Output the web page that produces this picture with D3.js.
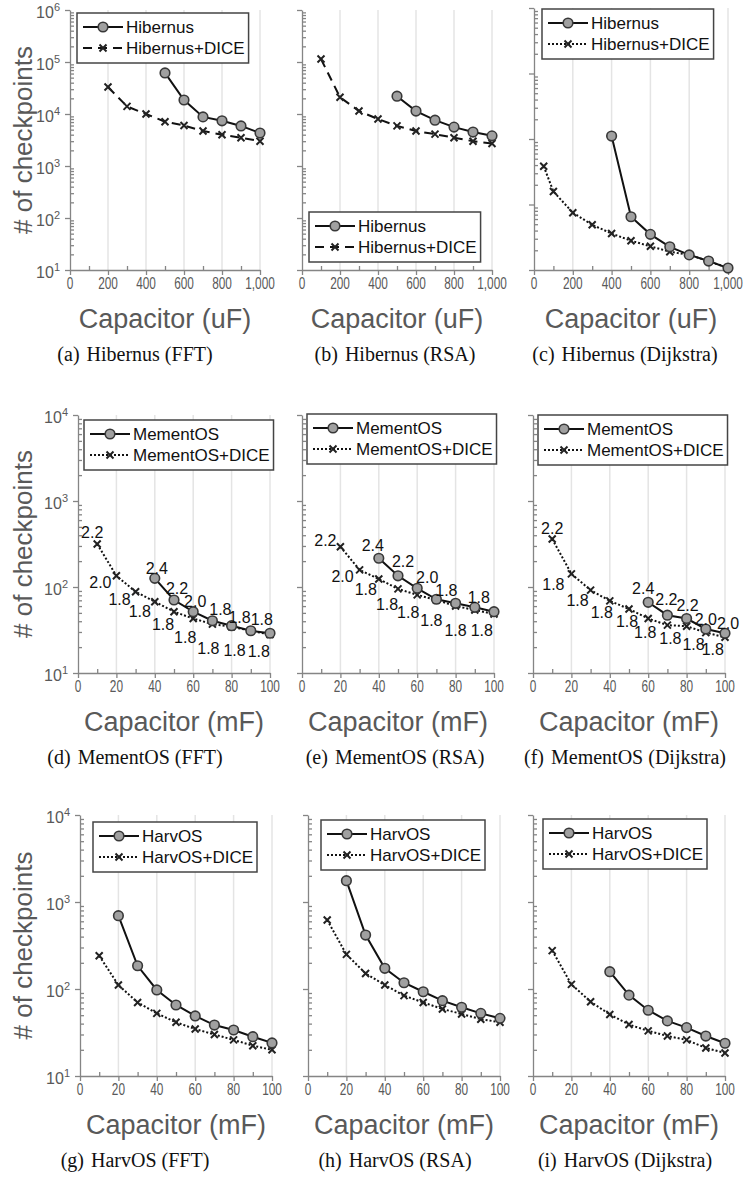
<!DOCTYPE html>
<html>
<head>
<meta charset="utf-8">
<script src="https://cdn.jsdelivr.net/npm/d3@7"></script>
<style>
  body { margin: 0; background: #fff; }
  text { font-family: "Liberation Sans", Arial, sans-serif; }
  text.cap { font-family: "Liberation Serif", "DejaVu Serif", serif; }
</style>
</head>
<body>
<svg id="fig" width="745" height="1182"></svg>
<script>
// ---- data ----
// Hibernus, capacitor in uF
var hibX = [500, 600, 700, 800, 900, 1000];
var hibFFT = [61600, 18600, 8800, 7400, 5900, 4300];
var hibDiceFFTX = [200, 300, 400, 500, 600, 700, 800, 900, 1000];
var hibDiceFFT = [33000, 14000, 10000, 7100, 6000, 4700, 4000, 3500, 3000];
var hibRSA = [22000, 11400, 7600, 5600, 4500, 3800];
var hibDiceRSAX = [100, 200, 300, 400, 500, 600, 700, 800, 900, 1000];
var hibDiceRSA = [114000, 21000, 11400, 8000, 5900, 4700, 4100, 3500, 3000, 2700];
var hibDijX = [400, 500, 600, 700, 800, 900, 1000];
var hibDij = [1110, 65, 35, 22.6, 17, 13.7, 10.7];
var hibDiceDijX = [50, 100, 200, 300, 400, 500, 600, 700, 800, 900, 1000];
var hibDiceDij = [384, 158, 75, 49, 36, 28, 23, 19, 17, 13.7, 10.7];

// MementOS, capacitor in mF (labels are the voltage thresholds shown on the points)
var memX = [40, 50, 60, 70, 80, 90, 100];
var memFFT = [126, 70.6, 51.6, 40.5, 35.5, 31, 29];
var memFFTLabels = ["2.4", "2.2", "2.0", "1.8", "1.8", "1.8", null];
var memDiceFFTX = [10, 20, 30, 40, 50, 60, 70, 80, 90, 100];
var memDiceFFT = [316, 135, 88, 67.5, 51.6, 43, 37, 34.5, 31, 28];
var memDiceFFTLabels = ["2.2", "2.0", "1.8", "1.8", "1.8", "1.8", "1.8", "1.8", "1.8", null];
var memRSA = [216, 135, 96.6, 72, 64.6, 58, 51.6];
var memRSALabels = ["2.4", "2.2", "2.0", "1.8", null, "1.8", null];
var memDiceRSAX = [20, 30, 40, 50, 60, 70, 80, 90, 100];
var memDiceRSA = [294, 158, 124, 95, 81, 70.6, 60, 54, 48.5];
var memDiceRSALabels = ["2.2", "2.0", "1.8", "1.8", "1.8", "1.8", "1.8", "1.8", null];
var memDijX = [60, 70, 80, 90, 100];
var memDij = [66.4, 47, 43, 32.5, 29];
var memDijLabels = ["2.4", "2.2", "2.2", "2.0", "2.0"];
var memDiceDijX = [10, 20, 30, 40, 50, 60, 70, 80, 90, 100];
var memDiceDij = [361, 142, 92, 69, 55.5, 43, 36, 35, 29.5, 26];
var memDiceDijLabels = ["2.2", "1.8", "1.8", "1.8", "1.8", "1.8", "1.8", "1.8", "1.8", null];

// HarvOS, capacitor in mF
var harvFFTX = [20, 30, 40, 50, 60, 70, 80, 90, 100];
var harvFFT = [696, 185, 97.5, 65.5, 49, 38.5, 33.8, 28.3, 24];
var harvDiceX = [10, 20, 30, 40, 50, 60, 70, 80, 90, 100];
var harvDiceFFT = [241, 111, 70, 52.5, 41.4, 34.7, 30, 26, 22.3, 20];
var harvRSA = [1757, 417, 173, 118, 93, 73.5, 61.6, 52.5, 46];
var harvDiceRSA = [621, 250, 151, 111, 84, 70, 59, 51.6, 45, 41.5];
var harvDijX = [40, 50, 60, 70, 80, 90, 100];
var harvDij = [158, 85, 57, 43, 36, 28.8, 23.8];
var harvDiceDij = [276, 113, 71.4, 51, 39, 33, 28.8, 26, 21, 18.4];

// tick labels
var uFTicks = [0, 200, 400, 600, 800, 1000];
var uFMinor = [100, 300, 500, 700, 900];
var mFTicks = [0, 20, 40, 60, 80, 100];
var mFMinor = [10, 30, 50, 70, 90];
var hibExps = [1, 2, 3, 4, 5, 6];
var memExps = [1, 2, 3, 4];
var harvExps = [1, 2, 3, 4];

var captions = [
  ["(a)", "Hibernus (FFT)"], ["(b)", "Hibernus (RSA)"], ["(c)", "Hibernus (Dijkstra)"],
  ["(d)", "MementOS (FFT)"], ["(e)", "MementOS (RSA)"], ["(f)", "MementOS (Dijkstra)"],
  ["(g)", "HarvOS (FFT)"], ["(h)", "HarvOS (RSA)"], ["(i)", "HarvOS (Dijkstra)"]
];

// ---- layout ----
// label nudges (px) for the MementOS data labels
var nudgeD = { base: [[2,-10],[3,-12],[2,-10],[8,-11],[8,-8],[11,-11],[0,0]],
               dice: [[-5,-12],[-16,7],[-16,8],[-15,10],[-11,13],[-8,19],[-4,24],[3,24],[8,21],[0,0]] };
var nudgeE = { base: [[-6,-13],[5,-14],[10,-11],[10,-9],[0,0],[4,-10],[0,0]],
               dice: [[-15,-6],[-17,7],[-13,11],[-11,16],[-9,18],[-5,20],[0,24],[7,20],[0,0]] };
var nudgeF = { base: [[-5,-14],[-1,-16],[1,-13],[0,-9],[3,-10]],
               dice: [[0,-11],[-18,11],[-13,10],[-8,12],[-2,13],[-3,14],[3,13],[7,18],[7,17],[0,0]] };

function zip(xs, ys) { return xs.map(function (v, i) { return [v, ys[i]]; }); }

var rowHib = { top: 10, bottom: 270, yDomain: [10, 1e6], exps: hibExps, ticks: uFTicks, minor: uFMinor,
               xMax: 1000, unit: "Capacitor (uF)", name: "Hibernus" };
var rowMem = { top: 415, bottom: 673, yDomain: [10, 1e4], exps: memExps, ticks: mFTicks, minor: mFMinor,
               xMax: 100, unit: "Capacitor (mF)", name: "MementOS" };
var rowHarv = { top: 815, bottom: 1076, yDomain: [10, 1e4], exps: harvExps, ticks: mFTicks, minor: mFMinor,
                xMax: 100, unit: "Capacitor (mF)", name: "HarvOS" };

var capCenters = [135, 395, 625];

var panels = [
  { row: rowHib, left: 70, right: 260, base: zip(hibX, hibFFT), dice: zip(hibDiceFFTX, hibDiceFFT),
    dash: "9,6", legend: [77, 13], yLabels: true },
  { row: rowHib, left: 302, right: 492, base: zip(hibX, hibRSA), dice: zip(hibDiceRSAX, hibDiceRSA),
    dash: "9,6", legend: [309, 212] },
  { row: rowHib, left: 534, right: 728, top: 8, yDomain: [10, 1e5], base: zip(hibDijX, hibDij),
    dice: zip(hibDiceDijX, hibDiceDij), dash: "2,2", legend: [542, 9] },
  { row: rowMem, left: 78, right: 270, base: zip(memX, memFFT), dice: zip(memDiceFFTX, memDiceFFT),
    baseLab: memFFTLabels, diceLab: memDiceFFTLabels, nudge: nudgeD, dash: "2,2", legend: [84, 420], yLabels: true },
  { row: rowMem, left: 302, right: 494, base: zip(memX, memRSA), dice: zip(memDiceRSAX, memDiceRSA),
    baseLab: memRSALabels, diceLab: memDiceRSALabels, nudge: nudgeE, dash: "2,2", legend: [307, 414] },
  { row: rowMem, left: 533, right: 725, base: zip(memDijX, memDij), dice: zip(memDiceDijX, memDiceDij),
    baseLab: memDijLabels, diceLab: memDiceDijLabels, nudge: nudgeF, dash: "2,2", legend: [538, 415] },
  { row: rowHarv, left: 80, right: 272, base: zip(harvFFTX, harvFFT), dice: zip(harvDiceX, harvDiceFFT),
    dash: "2,2", legend: [93, 822], yLabels: true },
  { row: rowHarv, left: 308, right: 500, base: zip(harvFFTX, harvRSA), dice: zip(harvDiceX, harvDiceRSA),
    dash: "2,2", legend: [321, 820] },
  { row: rowHarv, left: 533, right: 725, base: zip(harvDijX, harvDij), dice: zip(harvDiceX, harvDiceDij),
    dash: "2,2", legend: [543, 819] }
];

var svg = d3.select("#fig");
var axisGray = "#858585", textGray = "#595959";

function markerX(sel) {
  sel.append("path").attr("d", "M-3.5,-3.5L3.5,3.5M-3.5,3.5L3.5,-3.5")
    .attr("stroke", "#222").attr("stroke-width", 2).attr("fill", "none");
}
function markerO(sel) {
  sel.append("circle").attr("r", 4.8).attr("fill", "#a0a0a0")
    .attr("stroke", "#383838").attr("stroke-width", 1.6);
}

panels.forEach(function (p, idx) {
  var r = p.row;
  var top = p.top != null ? p.top : r.top;
  var yDom = p.yDomain || r.yDomain;
  var g = svg.append("g");

  var x = d3.scaleLinear().domain([0, r.xMax]).range([p.left, p.right]);
  var y = d3.scaleLog().domain(yDom).range([r.bottom, top]);

  // vertical gridlines
  g.selectAll(".grid").data(r.ticks.filter(function (d) { return d > 0; }))
    .enter().append("line")
    .attr("x1", function (d) { return x(d); }).attr("x2", function (d) { return x(d); })
    .attr("y1", top).attr("y2", r.bottom)
    .attr("stroke", "#e4e4e4").attr("stroke-width", 1.5);

  // y axis: major ticks outside, minor ticks inside
  var majorVals = [], minorVals = [];
  for (var e = 1; Math.pow(10, e) <= yDom[1]; e++) {
    majorVals.push(Math.pow(10, e));
    if (Math.pow(10, e) < yDom[1]) for (var k = 2; k <= 9; k++) minorVals.push(k * Math.pow(10, e));
  }
  g.append("g").attr("transform", "translate(" + p.left + ",0)")
    .call(d3.axisLeft(y).tickValues(majorVals).tickSize(5).tickSizeOuter(0).tickFormat(""));
  g.append("g").attr("transform", "translate(" + p.left + ",0)")
    .call(d3.axisLeft(y).tickValues(minorVals).tickSize(-4).tickSizeOuter(0).tickFormat(""))
    .select(".domain").remove();

  // x axis
  g.append("g").attr("transform", "translate(0," + r.bottom + ")")
    .call(d3.axisBottom(x).tickValues(r.ticks).tickSize(5).tickSizeOuter(0).tickFormat(""));
  g.append("g").attr("transform", "translate(0," + r.bottom + ")")
    .call(d3.axisBottom(x).tickValues(r.minor).tickSize(-4).tickSizeOuter(0).tickFormat(""))
    .select(".domain").remove();
  g.selectAll(".domain, .tick line").attr("stroke", axisGray).attr("stroke-width", 1.3);

  // x tick labels, narrow like the original
  g.selectAll(".xl").data(r.ticks).enter().append("text")
    .attr("transform", function (d) { return "translate(" + x(d) + "," + (r.bottom + 19) + ") scale(0.74,1)"; })
    .attr("text-anchor", "middle").attr("font-size", 16).attr("fill", textGray)
    .text(d3.format(","));

  // y tick labels and title (first column only)
  if (p.yLabels) {
    r.exps.forEach(function (ex) {
      var t = g.append("text").attr("x", p.left - 10).attr("y", y(Math.pow(10, ex)) + 8)
        .attr("text-anchor", "end").attr("font-size", 16).attr("fill", textGray);
      t.append("tspan").text("10");
      t.append("tspan").attr("font-size", 11).attr("dy", -7).text(ex);
    });
    g.append("text")
      .attr("transform", "translate(32," + ((top + r.bottom) / 2) + ") rotate(-90)")
      .attr("text-anchor", "middle").attr("font-size", 26).attr("fill", textGray)
      .text("# of checkpoints");
  }

  // axis title and caption
  g.append("text").attr("x", (p.left + p.right) / 2).attr("y", r.bottom + 58)
    .attr("text-anchor", "middle").attr("font-size", 27).attr("fill", textGray).text(r.unit);
  var cap = g.append("text").attr("class", "cap").attr("x", capCenters[idx % 3]).attr("y", r.bottom + 91)
    .attr("text-anchor", "middle").attr("font-size", 20).attr("fill", "#111");
  cap.append("tspan").text(captions[idx][0]);
  cap.append("tspan").attr("dx", 7).text(captions[idx][1]);

  // lines
  var line = d3.line().x(function (d) { return x(d[0]); }).y(function (d) { return y(d[1]); });
  g.append("path").datum(p.dice).attr("d", line).attr("fill", "none")
    .attr("stroke", "#111").attr("stroke-width", 2).attr("stroke-dasharray", p.dash);
  g.append("path").datum(p.base).attr("d", line).attr("fill", "none")
    .attr("stroke", "#111").attr("stroke-width", 2);

  g.selectAll(".mx").data(p.dice).enter().append("g")
    .attr("transform", function (d) { return "translate(" + x(d[0]) + "," + y(d[1]) + ")"; })
    .call(markerX);
  g.selectAll(".mo").data(p.base).enter().append("g")
    .attr("transform", function (d) { return "translate(" + x(d[0]) + "," + y(d[1]) + ")"; })
    .call(markerO);

  // data labels
  function labels(pts, labs, nud) {
    if (!labs) return;
    pts.forEach(function (d, i) {
      if (!labs[i]) return;
      g.append("text").attr("x", x(d[0]) + nud[i][0]).attr("y", y(d[1]) + nud[i][1])
        .attr("text-anchor", "middle").attr("dominant-baseline", "central")
        .attr("font-size", 16).attr("fill", "#111").text(labs[i]);
    });
  }
  labels(p.base, p.baseLab, p.nudge && p.nudge.base);
  labels(p.dice, p.diceLab, p.nudge && p.nudge.dice);

  // legend
  var lx = p.legend[0], ly = p.legend[1];
  var lg = g.append("g").attr("transform", "translate(" + lx + "," + ly + ")");
  var box = lg.append("rect").attr("fill", "#fff").attr("stroke", "#444").attr("stroke-width", 1.5);
  var names = [r.name, r.name + "+DICE"];
  var wMax = 0;
  names.forEach(function (nm, i) {
    var cy = 14 + i * 21;
    lg.append("line").attr("x1", 6).attr("x2", 46).attr("y1", cy).attr("y2", cy)
      .attr("stroke", "#111").attr("stroke-width", 2)
      .attr("stroke-dasharray", i === 0 ? null : p.dash);
    var m = lg.append("g").attr("transform", "translate(26," + cy + ")");
    if (i === 0) markerO(m); else markerX(m);
    var t = lg.append("text").attr("x", 49).attr("y", cy).attr("dominant-baseline", "central")
      .attr("font-size", 17).attr("fill", "#111").text(nm);
    wMax = Math.max(wMax, t.node().getComputedTextLength());
  });
  box.attr("width", 49 + wMax + 4).attr("height", 50);
});
</script>
</body>
</html>
